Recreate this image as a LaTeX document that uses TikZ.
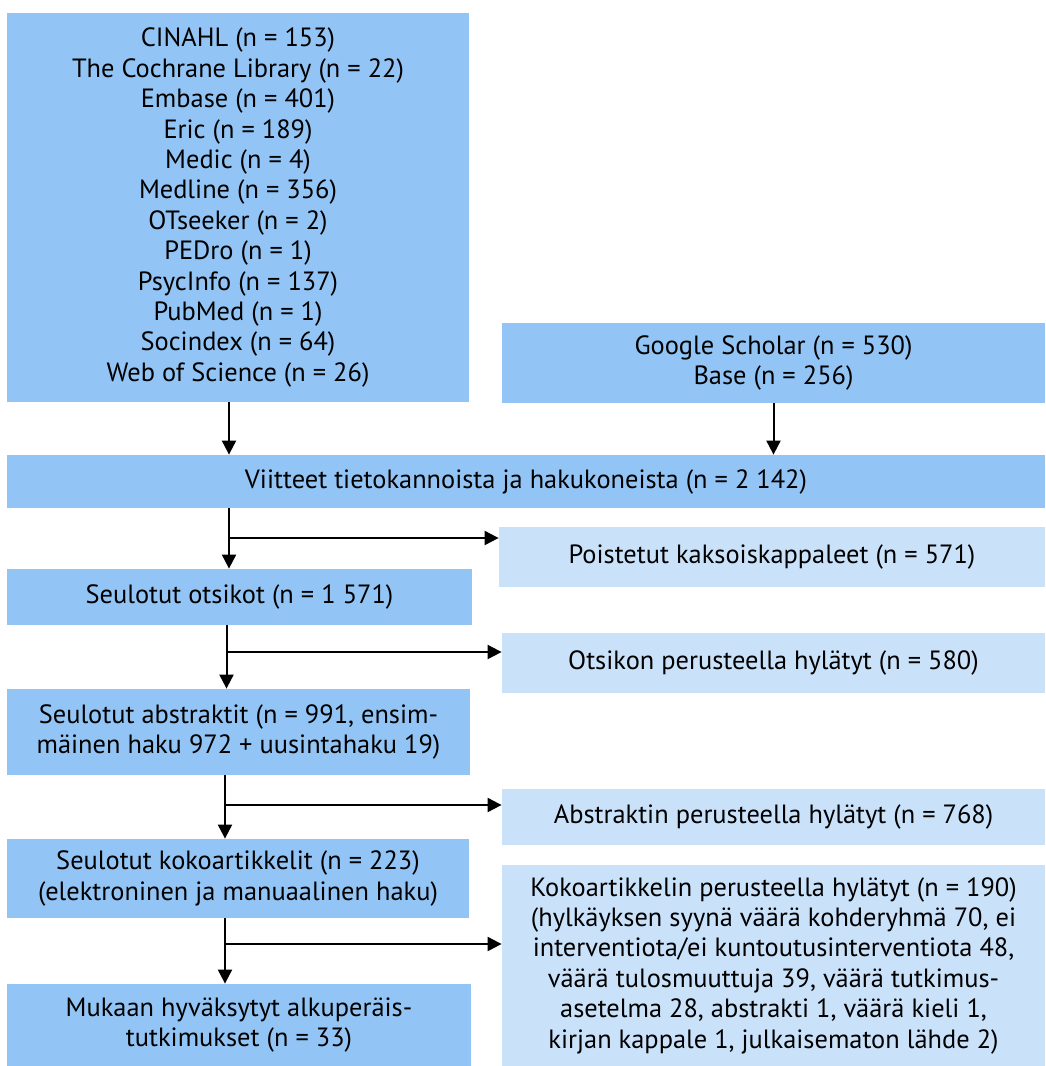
\documentclass[tikz,border=0pt]{standalone}
\usepackage{fontspec}
\setmainfont{PT Sans}
\usetikzlibrary{arrows.meta,calc}
\definecolor{dblue}{RGB}{146,197,245}
\definecolor{lblue}{RGB}{201,226,250}
\begin{document}
\begin{tikzpicture}[x=0.5pt,y=-0.5pt,
  every node/.style={font=\fontsize{13.2}{15.2}\selectfont},
  dbox/.style={fill=dblue, inner sep=0pt, align=center},
  lbox/.style={fill=lblue, inner sep=0pt, align=center},
  arr/.style={line width=1pt, -{Triangle[length=7pt,width=7pt]}},
  ln/.style={line width=1pt}]
\useasboundingbox (0,0) rectangle (1045,1066);
\node[dbox, minimum width=231pt, minimum height=194.5pt] (b1) at (238,207.5) {CINAHL (n = 153)\\The Cochrane Library (n = 22)\\Embase (n = 401)\\Eric (n = 189)\\Medic (n = 4)\\Medline (n = 356)\\OTseeker (n = 2)\\PEDro (n = 1)\\PsycInfo (n = 137)\\PubMed (n = 1)\\Socindex (n = 64)\\Web of Science (n = 26)};
\node[dbox, minimum width=271.5pt, minimum height=40pt] (b2) at (773.5,363) {Google Scholar (n = 530)\\Base (n = 256)};
\node[dbox, minimum width=519pt, minimum height=26.5pt] (b3) at (526,481.5) {Viitteet tietokannoista ja hakukoneista (n = 2 142)};
\node[lbox, minimum width=273pt, minimum height=30pt] (b4) at (772,557) {Poistetut kaksoiskappaleet (n = 571)};
\node[dbox, minimum width=232.5pt, minimum height=28pt] (b5) at (239.5,597) {Seulotut otsikot (n = 1 571)};
\node[lbox, minimum width=271.5pt, minimum height=30pt] (b6) at (773.5,663) {Otsikon perusteella hylätyt (n = 580)};
\node[dbox, minimum width=231.5pt, minimum height=43pt] (b7) at (238.5,732) {Seulotut abstraktit (n = 991, ensim-\\mäinen haku 972 + uusintahaku 19)};
\node[lbox, minimum width=271.5pt, minimum height=28pt] (b8) at (773.5,817) {Abstraktin perusteella hylätyt (n = 768)};
\node[dbox, minimum width=231pt, minimum height=39.5pt] (b9) at (238,878.5) {Seulotut kokoartikkelit (n = 223)\\(elektroninen ja manuaalinen haku)};
\node[lbox, minimum width=271.5pt, minimum height=100.5pt] (b10) at (773.5,965.5) {Kokoartikkelin perusteella hylätyt (n = 190)\\(hylkäyksen syynä väärä kohderyhmä 70, ei\\interventiota/ei kuntoutusinterventiota 48,\\väärä tulosmuuttuja 39, väärä tutkimus-\\asetelma 28, abstrakti 1, väärä kieli 1,\\kirjan kappale 1, julkaisematon lähde 2)};
\node[dbox, minimum width=232pt, minimum height=41pt] (b11) at (239,1025) {Mukaan hyväksytyt alkuperäis-\\tutkimukset (n = 33)};
% arrows
\draw[arr] ([xshift=-4.5pt]b1.south) -- ([xshift=-4.5pt]b1.south |- b3.north);
\draw[arr] (b2.south) -- (b2.south |- b3.north);
\draw[arr] ([xshift=-148.5pt]b3.south) -- ([xshift=-148.5pt]b3.south |- b5.north);
\coordinate (j1) at (229,538);
\draw[arr] (j1) -- (j1 -| b4.west);
\draw[arr] ([xshift=-6.5pt]b5.south) -- ([xshift=-6.5pt]b5.south |- b7.north);
\coordinate (j2) at (226,652);
\draw[arr] (j2) -- (j2 -| b6.west);
\draw[arr] ([xshift=-6.75pt]b7.south) -- ([xshift=-6.75pt]b7.south |- b9.north);
\coordinate (j3) at (225,805);
\draw[arr] (j3) -- (j3 -| b8.west);
\draw[arr] ([xshift=-6.5pt]b9.south) -- ([xshift=-6.5pt]b9.south |- b11.north);
\coordinate (j4) at (225,944);
\draw[arr] (j4) -- (j4 -| b10.west);
\end{tikzpicture}
\end{document}
